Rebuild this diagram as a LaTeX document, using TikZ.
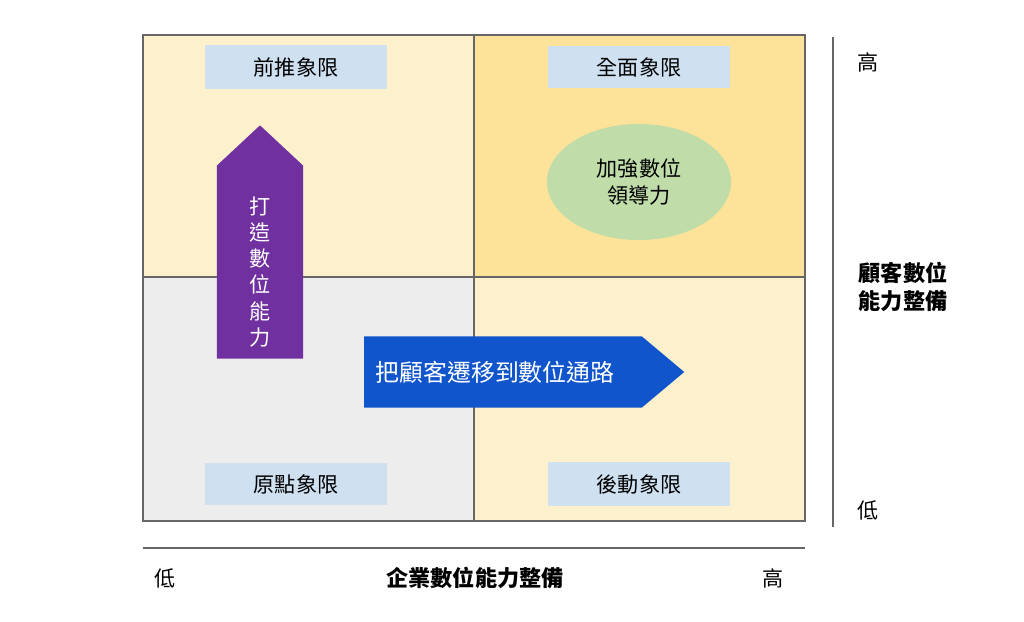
\documentclass[tikz,border=0pt]{standalone}
\usepackage{fontspec}
\setmainfont{Noto Sans CJK TC}
\usetikzlibrary{shapes.arrows, shapes.geometric}
\definecolor{cream}{HTML}{FDF0CC}
\definecolor{gold}{HTML}{FDE29A}
\definecolor{greyq}{HTML}{EDEDED}
\definecolor{tagblue}{HTML}{CFE0F0}
\definecolor{leaf}{HTML}{BFDCA9}
\definecolor{violet}{HTML}{7030A0}
\definecolor{royal}{HTML}{1155CC}
\tikzset{
  quad/.style={draw=black!60, line width=0.3pt},
  tag/.style={fill=tagblue, minimum width=1.82cm, minimum height=0.4cm, font=\fontsize{6}{6}\selectfont},
  axis/.style={font=\fontsize{6}{6}\selectfont},
  axistitle/.style={font=\fontsize{6.3}{8}\selectfont\bfseries, align=center}
}
\begin{document}
\begin{tikzpicture}[x=0.01cm,y=-0.01cm]
        \useasboundingbox (0,0) rectangle (1024,621);
        % quadrants
        \fill[cream] (143,35) rectangle (474,277);
        \fill[gold] (474,35) rectangle (805,277);
        \fill[greyq] (143,277) rectangle (474,521);
        \fill[cream] (474,277) rectangle (805,521);
        \draw[quad] (143,35) rectangle (805,521);
        \draw[quad] (474,35) -- (474,521);
        \draw[quad] (143,277) -- (805,277);

        \node[tag] (tl) at (296,67) {前推象限};
        \node[tag] (tr) at (639,67) {全面象限};
        \node[tag] (bl) at (296,484) {原點象限};
        \node[tag] (br) at (639,484) {後動象限};

        \node[ellipse, fill=leaf, minimum width=1.84cm, minimum height=1.16cm,
              align=center, font=\fontsize{6}{7.5}\selectfont] (lead) at (639,182) {加強數位\\領導力};

        % arrows
        \node[single arrow, fill=violet, shape border rotate=90, minimum width=0.86cm,
              single arrow head extend=0pt, single arrow tip angle=94, minimum height=2.33cm,
              inner sep=0pt] (up) at (260,262) {};
        \node[text=white, align=center, font=\fontsize{6}{7.4}\selectfont] (uptext) at (260,272)
              {打\\造\\數\\位\\能\\力};
        \node[single arrow, fill=royal, minimum height=3.2cm, minimum width=0.71cm,
              single arrow head extend=0pt, single arrow tip angle=80, inner sep=0pt] (right) at (503,372) {};
        \node[text=white, font=\fontsize{6.8}{7}\selectfont] (righttext) at (495,372) {把顧客遷移到數位通路};

        % axes
        \coordinate (vtop) at (833,37);
        \coordinate (vbot) at (833,527);
        \draw[black!60, line width=0.3pt] (vtop) -- (vbot);
        \node[axis] (vhigh) at (868,62) {高};
        \node[axistitle] (vtitle) at (903,287) {顧客數位\\能力整備};
        \node[axis] (vlow) at (868,510) {低};

        \coordinate (hleft) at (143,548);
        \coordinate (hright) at (805,548);
        \draw[black!60, line width=0.3pt] (hleft) -- (hright);
        \node[axis] (hlow) at (165,578) {低};
        \node[axistitle] (htitle) at (475,578) {企業數位能力整備};
        \node[axis] (hhigh) at (773,578) {高};
\end{tikzpicture}
\end{document}
